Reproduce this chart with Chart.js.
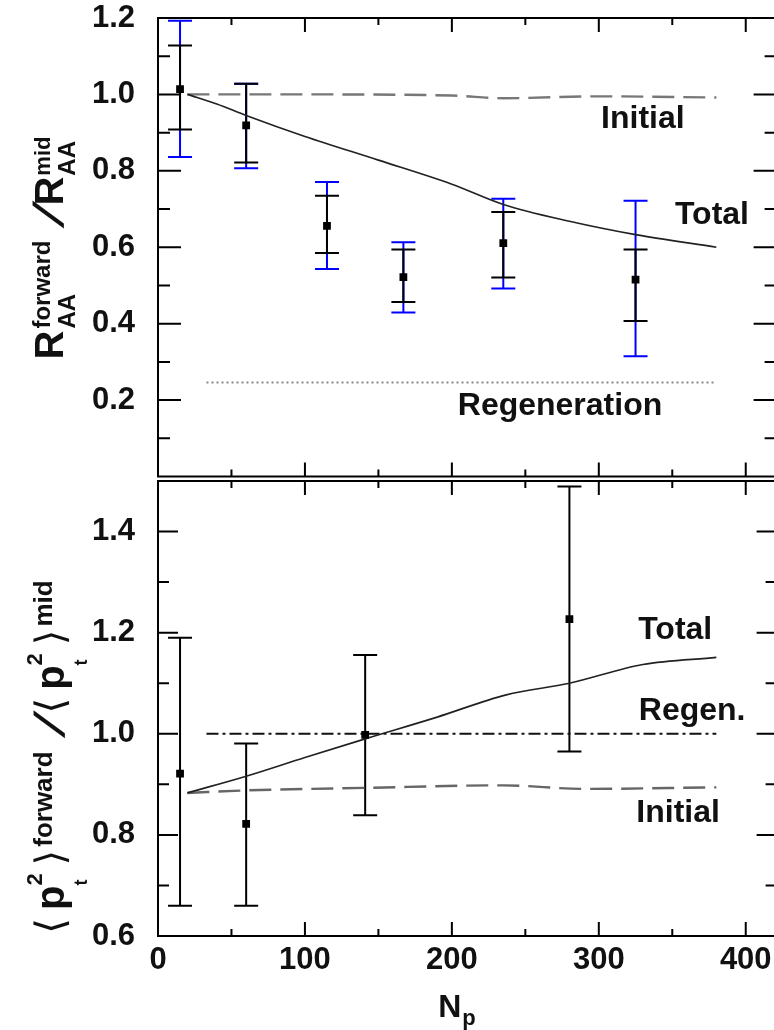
<!DOCTYPE html>
<html>
<head>
<meta charset="utf-8">
<script src="https://cdn.jsdelivr.net/npm/chart.js@4.4.0/dist/chart.umd.min.js"></script>
<style>
  html, body { margin: 0; padding: 0; background: #fff; overflow: hidden; width: 774px; height: 1030px; }
  #topChart { position: absolute; left: 0; top: 0; }
  #botChart { position: absolute; left: 0; top: 470px; }
</style>
</head>
<body>
<canvas id="topChart" width="800" height="482"></canvas>
<canvas id="botChart" width="800" height="560"></canvas>
<script>
// ---- top panel: R_AA forward / mid ----
var npTop = [15, 60, 115, 167, 235, 325];
var raaTop = [1.014, 0.919, 0.656, 0.522, 0.611, 0.515];
var raaStatLo = [0.908, 0.822, 0.585, 0.457, 0.521, 0.407];
var raaStatHi = [1.128, 1.028, 0.735, 0.594, 0.692, 0.594];
var raaSysLo = [0.836, 0.807, 0.543, 0.429, 0.492, 0.315];
var raaSysHi = [1.193, 1.028, 0.771, 0.613, 0.727, 0.722];

var totalTopX = [20, 40, 60, 100, 150, 200, 235, 280, 325, 380];
var totalTopY = [1.0, 0.975, 0.945, 0.89, 0.828, 0.765, 0.712, 0.668, 0.633, 0.60];
var initialTopX = [20, 100, 200, 235, 300, 380];
var initialTopY = [1.0, 1.0, 0.997, 0.99, 0.995, 0.992];
var regenTopX = [33, 380];
var regenTopY = [0.246, 0.246];

// ---- bottom panel: <pt^2> forward / mid ----
var npBot = [15, 60, 141, 280];
var pt2Bot = [0.921, 0.822, 0.998, 1.227];
var pt2Lo = [0.66, 0.66, 0.839, 0.965];
var pt2Hi = [1.19, 0.981, 1.156, 1.489];

var totalBotX = [20, 60, 100, 141, 190, 237, 280, 330, 380];
var totalBotY = [0.883, 0.916, 0.953, 0.99, 1.033, 1.077, 1.10, 1.137, 1.151];
var initialBotX = [20, 60, 141, 235, 290, 380];
var initialBotY = [0.883, 0.888, 0.893, 0.898, 0.891, 0.894];
var regenBotX = [33, 380];
var regenBotY = [1.0, 1.0];

// ---- axes ----
var xTicks = [0, 100, 200, 300, 400];
var xMinor = [50, 150, 250, 350];
var yTicksTop = [0.2, 0.4, 0.6, 0.8, 1.0, 1.2];
var yMinorTop = [0.1, 0.3, 0.5, 0.7, 0.9, 1.1];
var yTicksBot = [0.6, 0.8, 1.0, 1.2, 1.4];
var yMinorBot = [0.7, 0.9, 1.1, 1.3];

// curve labels: text, Np, value
var labelsTop = [['Initial', 330, 0.936], ['Total', 377, 0.685], ['Regeneration', 273.6, 0.185]];
var labelsBot = [['Total', 352, 1.204], ['Regen.', 363.5, 1.045], ['Initial', 354, 0.843]];

var FAM = '"Liberation Sans", Arial, sans-serif';
var tickFont = { family: FAM, size: 31, weight: 'bold' };

function xy(xs, ys) {
  return xs.map(function (x, i) { return { x: x, y: ys[i] }; });
}

// keep chart area exactly where the layout padding puts it
function noPad(s) {
  s.paddingTop = 0; s.paddingBottom = 0; s.paddingLeft = 0; s.paddingRight = 0;
}

function drawErrBars(chart, xs, lo, hi, color) {
  var ctx = chart.ctx, sx = chart.scales.x, sy = chart.scales.y;
  ctx.save();
  ctx.strokeStyle = color;
  ctx.lineWidth = 2;
  ctx.beginPath();
  xs.forEach(function (x, i) {
    var px = sx.getPixelForValue(x);
    var p1 = sy.getPixelForValue(lo[i]), p2 = sy.getPixelForValue(hi[i]);
    ctx.moveTo(px, p1); ctx.lineTo(px, p2);
    ctx.moveTo(px - 12, p1); ctx.lineTo(px + 12, p1);
    ctx.moveTo(px - 12, p2); ctx.lineTo(px + 12, p2);
  });
  ctx.stroke();
  ctx.restore();
}

function drawFrame(chart, yMaj, yMin, yMajLen, yMinLen) {
  var ctx = chart.ctx, a = chart.chartArea, sx = chart.scales.x, sy = chart.scales.y;
  ctx.save();
  ctx.strokeStyle = '#000';
  ctx.lineWidth = 2;
  ctx.strokeRect(a.left, a.top, a.right - a.left, a.bottom - a.top);
  ctx.beginPath();
  function xt(vals, len) {
    vals.forEach(function (v) {
      var p = sx.getPixelForValue(v);
      ctx.moveTo(p, a.top); ctx.lineTo(p, a.top + len);
      ctx.moveTo(p, a.bottom); ctx.lineTo(p, a.bottom - len);
    });
  }
  function yt(vals, len) {
    vals.forEach(function (v) {
      var p = sy.getPixelForValue(v);
      ctx.moveTo(a.left, p); ctx.lineTo(a.left + len, p);
      ctx.moveTo(a.right, p); ctx.lineTo(a.right - len, p);
    });
  }
  xt(xTicks, 14); xt(xMinor, 7);
  yt(yMaj, yMajLen); yt(yMin, yMinLen);
  ctx.stroke();
  ctx.restore();
}

function drawLabels(chart, list) {
  var ctx = chart.ctx, sx = chart.scales.x, sy = chart.scales.y;
  ctx.save();
  ctx.fillStyle = '#111';
  ctx.font = 'bold 32px ' + FAM;
  ctx.textAlign = 'center';
  ctx.textBaseline = 'middle';
  list.forEach(function (l) {
    ctx.fillText(l[0], sx.getPixelForValue(l[1]), sy.getPixelForValue(l[2]));
  });
  ctx.restore();
}

// rich text (sub/superscripts) along a baseline, centred on (cx, cy)
function drawRich(ctx, parts, cx, cy, angle) {
  ctx.save();
  ctx.translate(cx, cy);
  ctx.rotate(angle);
  ctx.fillStyle = '#111';
  ctx.textBaseline = 'alphabetic';
  ctx.textAlign = 'left';
  var widths = parts.map(function (p) {
    if (p.w) return p.w;
    return Math.max.apply(null, p.items.map(function (it) {
      ctx.font = it.f; return ctx.measureText(it.t).width;
    }));
  });
  var total = 0;
  parts.forEach(function (p, i) { total += widths[i] + (p.gap || 0); });
  var x = -total / 2;
  parts.forEach(function (p, i) {
    x += p.gap || 0;
    p.items.forEach(function (it) {
      ctx.font = it.f;
      var mw = ctx.measureText(it.t).width;
      if (p.skew) {
        ctx.save();
        ctx.translate(x + widths[i] / 2, it.dy || 0);
        ctx.transform(1, 0, p.skew, 1, 0, 0);
        ctx.fillText(it.t, -mw / 2, 0);
        ctx.restore();
      } else {
        ctx.fillText(it.t, x, it.dy || 0);
      }
    });
    x += widths[i];
  });
  ctx.restore();
}

function f(size, bold) { return (bold === false ? '' : 'bold ') + size + 'px ' + FAM; }
var BR = '40px "DejaVu Sans", sans-serif';

var titleTop = [
  { items: [{ t: 'R', f: f(40) }] },
  { gap: 2, items: [{ t: 'forward', f: f(24), dy: -13 }, { t: 'AA', f: f(24), dy: 12 }] },
  { gap: 1, w: 34, skew: -0.55, items: [{ t: '/', f: f(42) }] },
  { items: [{ t: 'R', f: f(40) }] },
  { gap: 1, items: [{ t: 'mid', f: f(22), dy: -13 }, { t: 'AA', f: f(24), dy: 12 }] }
];
var titleBot = [
  { items: [{ t: '\u27E8', f: BR }] },
  { gap: 8, items: [{ t: 'p', f: f(40) }] },
  { items: [{ t: '2', f: f(22), dy: -22 }, { t: 't', f: f(18), dy: 23 }] },
  { gap: 8, items: [{ t: '\u27E9', f: BR }] },
  { gap: 3, items: [{ t: 'forward', f: f(26), dy: -12 }] },
  { gap: 4, w: 30, skew: -0.55, items: [{ t: '/', f: f(42) }] },
  { gap: 4, items: [{ t: '\u27E8', f: BR }] },
  { gap: 8, items: [{ t: 'p', f: f(40) }] },
  { items: [{ t: '2', f: f(22), dy: -22 }, { t: 't', f: f(18), dy: 23 }] },
  { gap: 8, items: [{ t: '\u27E9', f: BR }] },
  { gap: 3, items: [{ t: 'mid', f: f(26), dy: -12 }] }
];

function lineSet(xs, ys, color, width, dash) {
  return {
    data: xy(xs, ys), showLine: true, pointRadius: 0, borderColor: color,
    borderWidth: width, borderDash: dash || [], cubicInterpolationMode: 'monotone', fill: false
  };
}
function pointSet(xs, ys) {
  return {
    data: xy(xs, ys), showLine: false, pointStyle: 'rect', pointRadius: 5.5,
    backgroundColor: '#000', borderColor: '#000', borderWidth: 0
  };
}

var topChart = new Chart(document.getElementById('topChart'), {
  type: 'scatter',
  data: {
    datasets: [
      pointSet(npTop, raaTop),
      lineSet(totalTopX, totalTopY, '#222', 1.7),
      lineSet(initialTopX, initialTopY, '#777', 2.4, [22, 9]),
      lineSet(regenTopX, regenTopY, '#888', 2.2, [2, 3])
    ]
  },
  options: {
    responsive: false, animation: false, devicePixelRatio: 1,
    layout: { padding: { left: 0, top: 18, right: 23.4, bottom: 1 } },
    plugins: { legend: { display: false }, tooltip: { enabled: false } },
    scales: {
      x: { type: 'linear', min: 0, max: 421, display: false },
      y: {
        type: 'linear', min: 0, max: 1.2,
        grid: { display: false }, border: { display: false },
        afterBuildTicks: function (s) { s.ticks = yTicksTop.map(function (v) { return { value: v }; }); },
        afterFit: function (s) { s.width = 158; noPad(s); },
        ticks: { font: tickFont, color: '#111', padding: 15, callback: function (v) { return v.toFixed(1); } }
      }
    }
  },
  plugins: [{
    id: 'topExtras',
    beforeDatasetsDraw: function (chart) {
      drawErrBars(chart, npTop, raaSysLo, raaSysHi, '#0000ff');
      drawErrBars(chart, npTop, raaStatLo, raaStatHi, '#000');
    },
    afterDraw: function (chart) {
      drawFrame(chart, yTicksTop, yMinorTop, 23, 12);
      drawLabels(chart, labelsTop);
      drawRich(chart.ctx, titleTop, 63, 248, -Math.PI / 2);
    }
  }]
});

var botChart = new Chart(document.getElementById('botChart'), {
  type: 'scatter',
  data: {
    datasets: [
      pointSet(npBot, pt2Bot),
      lineSet(totalBotX, totalBotY, '#222', 1.7),
      lineSet(initialBotX, initialBotY, '#666', 2.4, [22, 9]),
      lineSet(regenBotX, regenBotY, '#111', 2, [12, 4, 3, 4])
    ]
  },
  options: {
    responsive: false, animation: false, devicePixelRatio: 1,
    layout: { padding: { left: 0, top: 11, right: 23.4, bottom: 0 } },
    plugins: { legend: { display: false }, tooltip: { enabled: false } },
    scales: {
      x: {
        type: 'linear', min: 0, max: 421,
        grid: { display: false }, border: { display: false },
        afterBuildTicks: function (s) { s.ticks = xTicks.map(function (v) { return { value: v }; }); },
        afterFit: function (s) { s.height = 94; noPad(s); },
        ticks: { font: tickFont, color: '#111', padding: -2, autoSkip: false, maxRotation: 0,
                 callback: function (v) { return String(v); } }
      },
      y: {
        type: 'linear', min: 0.6, max: 1.5,
        grid: { display: false }, border: { display: false },
        afterBuildTicks: function (s) { s.ticks = yTicksBot.map(function (v) { return { value: v }; }); },
        afterFit: function (s) { s.width = 158; noPad(s); },
        ticks: { font: tickFont, color: '#111', padding: 15, callback: function (v) { return v.toFixed(1); } }
      }
    }
  },
  plugins: [{
    id: 'botExtras',
    beforeDatasetsDraw: function (chart) {
      drawErrBars(chart, npBot, pt2Lo, pt2Hi, '#000');
    },
    afterDraw: function (chart) {
      drawFrame(chart, yTicksBot, yMinorBot, 20, 11);
      drawLabels(chart, labelsBot);
      drawRich(chart.ctx, titleBot, 64, 287, -Math.PI / 2);
      drawRich(chart.ctx, [
        { items: [{ t: 'N', f: f(32) }] },
        { gap: 1, items: [{ t: 'p', f: f(22), dy: 8 }] }
      ], 457, 547, 0);
    }
  }]
});
</script>
</body>
</html>
